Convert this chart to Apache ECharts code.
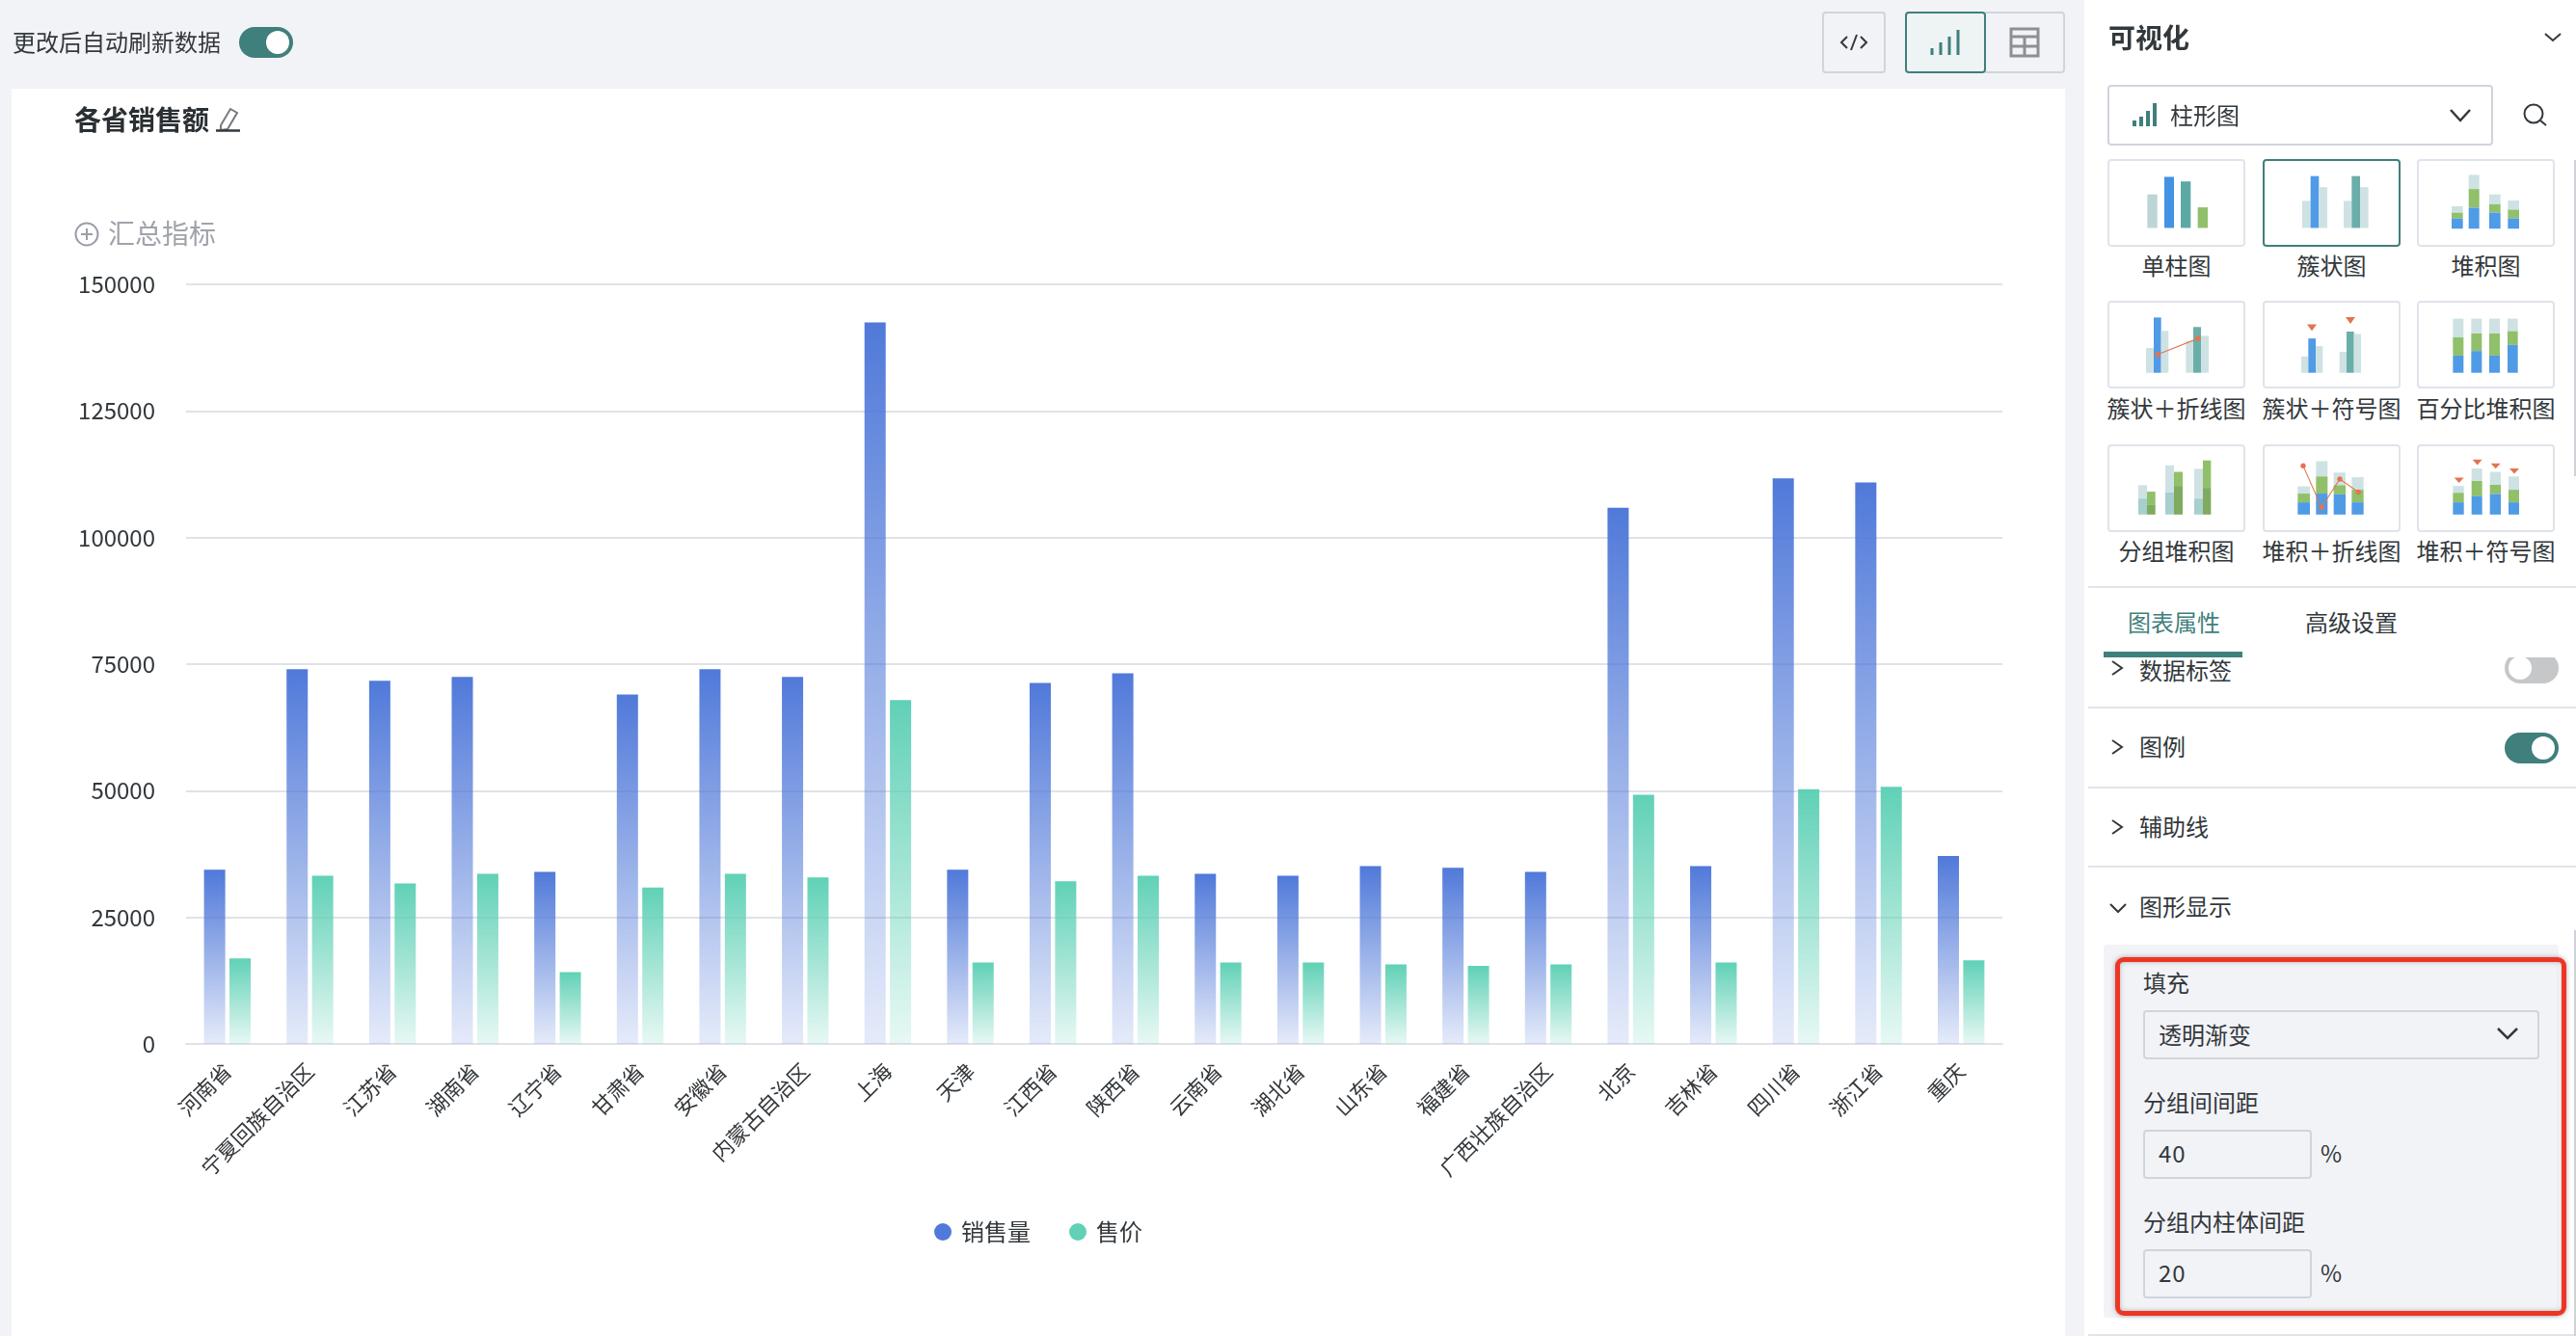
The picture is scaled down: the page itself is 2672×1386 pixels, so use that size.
<!DOCTYPE html>
<html>
<head>
    <meta charset="utf-8">
    <title>各省销售额</title>
    <script src="https://cdn.jsdelivr.net/npm/echarts@6/dist/echarts.min.js"></script>
    <style>
        html, body { margin: 0; padding: 0; width: 2672px; height: 1386px; overflow: hidden; background: #f2f3f7; }
        body, div, span { font-family: "Noto Sans CJK SC", "Noto Sans", sans-serif; color: #33383c; box-sizing: border-box; }
        .abs { position: absolute; }
        .t { position: absolute; font-size: 24px; line-height: 34px; white-space: nowrap; transform: translateY(calc(-50% - 1.5px)); }
        .c { position: absolute; font-size: 24px; line-height: 34px; white-space: nowrap; transform: translate(-50%, calc(-50% - 1.5px)); }
        .sep { position: absolute; left: 2166px; width: 506px; height: 2px; background: #e2e4ea; }
        .box { position: absolute; border: 2px solid #d0d4dc; border-radius: 4px; }
        .card { position: absolute; width: 143px; height: 91px; border: 2px solid #e0e3ea; border-radius: 4px; background: #fff; }
        .toggle { position: absolute; width: 56px; height: 32px; border-radius: 16px; background: #3f7f7c; }
        .knob { position: absolute; top: 4px; width: 24px; height: 24px; border-radius: 12px; background: #fff; }
    </style>
</head>
<body>
<div class="abs" style="left:12px;top:92px;width:2130px;height:1294px;background:#fff"></div>
<div class="abs" style="left:2162px;top:0;width:510px;height:1386px;background:#fff"></div>

<div id="main" class="abs" style="left:0;top:0;width:2142px;height:1386px"></div>

<!-- 顶部工具栏 -->
<div class="t" style="left:13px;top:44px">更改后自动刷新数据</div>
<div class="toggle" style="left:248px;top:28px"><div class="knob" style="left:28px"></div></div>
<div class="box" style="left:1890px;top:12px;width:66px;height:64px"></div>
<div class="box" style="left:2057px;top:12px;width:85px;height:64px;border-left:none"></div>
<div class="box" style="left:1976px;top:12px;width:84px;height:64px;border-color:#3f7f7c;background:#eef3f4"></div>
<svg class="abs" style="left:1890px;top:12px" width="66" height="64">
    <path d="M26 26L20 32L26 38M40 26L46 32L40 38M36 24L30 40" stroke="#33383c" stroke-width="2" fill="none"/>
</svg>
<svg class="abs" style="left:1976px;top:12px" width="166" height="64">
    <path d="M28 45V38M37 45V32M46 45V26M55 45V19" stroke="#3f7f7c" stroke-width="3" fill="none"/>
    <path d="M110 18H138V46H110ZM110 26H138M124 26V46M110 36H138" stroke="#8c9095" stroke-width="3" fill="none"/>
</svg>

<!-- 汇总指标 -->
<svg class="abs" style="left:222px;top:110px" width="30" height="28">
    <path d="M7 20L17 3L24 7L14 24L7 25Z" stroke="#77797e" stroke-width="2" fill="none"/>
    <path d="M2 25.5H27" stroke="#33383c" stroke-width="2.5"/>
</svg>
<svg class="abs" style="left:76px;top:229px" width="28" height="28">
    <circle cx="14" cy="14" r="11.5" stroke="#9a9ea8" stroke-width="2" fill="none"/>
    <path d="M8 14H20M14 8V20" stroke="#9a9ea8" stroke-width="2"/>
</svg>
<div class="t" style="left:112px;top:242px;font-size:28px;color:#a0a3aa">汇总指标</div>

<!-- 右侧面板 -->
<div class="t" style="left:2187px;top:39px;font-size:28px;font-weight:bold">可视化</div>
<svg class="abs" style="left:2150px;top:0" width="522" height="160">
    <path d="M490 35L498 42L506 35" stroke="#33383c" stroke-width="2" fill="none"/>
    <path d="M64 131V125M71 131V121M78 131V115M85 131V107" stroke="#3f7f7c" stroke-width="4" fill="none"/>
    <path d="M392 114L402 125L412 114" stroke="#33383c" stroke-width="2.5" fill="none"/>
    <circle cx="478" cy="118" r="9.5" stroke="#33383c" stroke-width="2" fill="none"/>
    <path d="M485 125L491 130" stroke="#33383c" stroke-width="2"/>
</svg>
<div class="box" style="left:2186px;top:88px;width:400px;height:63px"></div>
<div class="t" style="left:2251px;top:120px">柱形图</div>
<div id="cards"></div>

<div class="sep" style="top:608px"></div>
<div class="t" style="left:2207px;top:646px;color:#3f7f7c">图表属性</div>
<div class="t" style="left:2391px;top:646px">高级设置</div>
<div class="t" style="left:2219px;top:696px;clip-path:inset(3px 0 0 0)">数据标签</div>
<div class="abs" style="left:2598px;top:682px;width:56px;height:27px;overflow:hidden">
    <div class="toggle" style="left:0;top:-5px;background:#c5c7c9"><div class="knob" style="left:4px"></div></div>
</div>
<div class="abs" style="left:2182px;top:676px;width:144px;height:6px;background:#3f7f7c"></div>
<div class="sep" style="top:733px"></div>
<div class="t" style="left:2219px;top:775px">图例</div>
<div class="toggle" style="left:2598px;top:760px"><div class="knob" style="left:28px"></div></div>
<div class="sep" style="top:816px"></div>
<div class="t" style="left:2219px;top:858px">辅助线</div>
<div class="sep" style="top:898px"></div>
<div class="t" style="left:2219px;top:941px">图形显示</div>
<svg class="abs" style="left:2186px;top:680px" width="24" height="280">
    <path d="M5 6L15 13L5 20M5 88L15 95L5 102M5 171L15 178L5 185M3 258L11 266L19 258" stroke="#33383c" stroke-width="2" fill="none"/>
</svg>

<div class="abs" style="left:2182px;top:980px;width:472px;height:387px;background:#f2f3f7;border-radius:4px"></div>
<div class="t" style="left:2223px;top:1020px">填充</div>
<div class="box" style="left:2223px;top:1048px;width:411px;height:51px"></div>
<div class="t" style="left:2239px;top:1074px">透明渐变</div>
<svg class="abs" style="left:2588px;top:1062px" width="26" height="22">
    <path d="M3 5L13 15L23 5" stroke="#33383c" stroke-width="2.5" fill="none"/>
</svg>
<div class="t" style="left:2223px;top:1144px">分组间间距</div>
<div class="box" style="left:2223px;top:1172px;width:175px;height:51px"></div>
<div class="t" style="left:2239px;top:1197px;letter-spacing:1px">40</div>
<div class="t" style="left:2407px;top:1197px">%</div>
<div class="t" style="left:2223px;top:1268px">分组内柱体间距</div>
<div class="box" style="left:2223px;top:1296px;width:175px;height:51px"></div>
<div class="t" style="left:2239px;top:1321px;letter-spacing:1px">20</div>
<div class="t" style="left:2407px;top:1321px">%</div>
<div class="abs" style="left:2194px;top:993px;width:468px;height:372px;border:5px solid #ee3524;border-radius:9px;box-shadow:0 0 5px rgba(60,60,60,.45), inset 0 0 5px rgba(60,60,60,.35)"></div>
<div class="sep" style="top:1384px"></div>
<div class="abs" style="left:2670px;top:166px;width:2px;height:328px;background:#cfd2d8"></div>
<div class="abs" style="left:2670px;top:965px;width:2px;height:421px;background:#cfd2d8"></div>

<!-- 缩略图图标，坐标系与面板截图一致 -->
<svg id="thumbs" class="abs" style="left:2150px;top:0" width="522" height="620" viewBox="0 0 1566 1568" preserveAspectRatio="none"></svg>

<script>
var provinces = ['河南省', '宁夏回族自治区', '江苏省', '湖南省', '辽宁省', '甘肃省', '安徽省', '内蒙古自治区', '上海', '天津', '江西省', '陕西省', '云南省', '湖北省', '山东省', '福建省', '广西壮族自治区', '北京', '吉林省', '四川省', '浙江省', '重庆'];
var salesVolume = [34400, 74000, 71700, 72500, 34000, 69000, 74000, 72500, 142500, 34400, 71300, 73200, 33600, 33200, 35100, 34800, 34000, 105900, 35100, 111700, 110900, 37100];
var price = [16900, 33200, 31700, 33600, 14200, 30900, 33600, 32900, 67900, 16100, 32100, 33200, 16100, 16100, 15700, 15400, 15700, 49200, 16100, 50300, 50800, 16500];
var yTicks = [0, 25000, 50000, 75000, 100000, 125000, 150000];
var seriesNames = ['销售量', '售价'];
var chartTypes = ['单柱图', '簇状图', '堆积图', '簇状＋折线图', '簇状＋符号图', '百分比堆积图', '分组堆积图', '堆积＋折线图', '堆积＋符号图'];

function fade(r, g, b) {
    return new echarts.graphic.LinearGradient(0, 0, 0, 1, [
        {offset: 0, color: 'rgba(' + r + ',' + g + ',' + b + ',1)'},
        {offset: 1, color: 'rgba(' + r + ',' + g + ',' + b + ',0.15)'}
    ]);
}

var chart = echarts.init(document.getElementById('main'));
chart.setOption({
    animation: false,
    backgroundColor: 'transparent',
    textStyle: {fontFamily: '"Noto Sans CJK SC", "Noto Sans", sans-serif'},
    title: {
        text: '各省销售额',
        left: 72,
        top: 105,
        textStyle: {fontSize: 28, fontWeight: 'bold', color: '#2a2f33'}
    },
    legend: {
        data: [
            {name: seriesNames[0], itemStyle: {color: '#5079d9'}},
            {name: seriesNames[1], itemStyle: {color: '#60d1b6'}}
        ],
        left: 964,
        top: 1261,
        icon: 'circle',
        itemWidth: 18,
        itemHeight: 18,
        itemGap: 40,
        textStyle: {fontSize: 24, color: '#33383c', padding: [0, 0, 0, 5]}
    },
    grid: {left: 193, right: 65, top: 295, bottom: 303},
    xAxis: {
        type: 'category',
        data: provinces,
        axisLine: {lineStyle: {color: '#e0e2e8', width: 2}},
        axisTick: {length: 18, lineStyle: {color: '#e0e2e8', width: 2}},
        axisLabel: {interval: 0, rotate: 45, fontSize: 22, margin: 24, color: '#33383c'}
    },
    yAxis: {
        type: 'value',
        min: yTicks[0],
        max: yTicks[yTicks.length - 1],
        interval: yTicks[1] - yTicks[0],
        axisLine: {show: false},
        axisTick: {show: false},
        axisLabel: {
            fontSize: 24,
            margin: 32,
            color: '#33383c',
            formatter: function (v) { return String(v); }
        },
        splitLine: {lineStyle: {color: '#e0e2e8', width: 2}}
    },
    series: [
        {name: seriesNames[0], type: 'bar', barWidth: 22, barGap: '20%', data: salesVolume, itemStyle: {color: fade(80, 121, 217)}},
        {name: seriesNames[1], type: 'bar', barWidth: 22, data: price, itemStyle: {color: fade(96, 209, 182)}}
    ]
});

// 面板上的图表类型卡片
var cardsHtml = '';
var cardX = [2186, 2347, 2507];
var cardY = [165, 312, 461];
var labelY = [276, 424, 572];
chartTypes.forEach(function (name, i) {
    var col = i % 3, row = Math.floor(i / 3);
    var border = i == 1 ? 'border-color:#3f7f7c;' : '';
    cardsHtml += '<div class="card" style="left:' + cardX[col] + 'px;top:' + cardY[row] + 'px;' + border + '"></div>';
    cardsHtml += '<div class="c" style="left:' + (cardX[col] + 71.5) + 'px;top:' + labelY[row] + 'px">' + name + '</div>';
});
document.getElementById('cards').innerHTML = cardsHtml;

var LIGHT = '#cfe2e3', SOFT = '#bcd5d7', BLUE = '#4f9be6', TEAL = '#6aaeaa', GREEN = '#90c06a', MID = '#a6cfce', DARK = '#7faa5f', RED = '#e27450';
var svg = '';
function rect(x0, y0, x1, y1, c) {
    svg += '<rect x="' + x0 + '" y="' + y0 + '" width="' + (x1 - x0) + '" height="' + (y1 - y0) + '" fill="' + c + '"/>';
}
function stack(x0, x1, ys) {
    rect(x0, ys[0], x1, ys[1], LIGHT);
    rect(x0, ys[1], x1, ys[2], GREEN);
    rect(x0, ys[2], x1, ys[3], BLUE);
}
function tri(x, y0, y1) {
    svg += '<path d="M' + (x - 15) + ' ' + y0 + 'H' + (x + 15) + 'L' + x + ' ' + y1 + 'Z" fill="' + RED + '"/>';
}
function line(pts) {
    svg += '<polyline points="' + pts.map(function (p) { return p.join(','); }).join(' ') + '" fill="none" stroke="' + RED + '" stroke-width="3"/>';
    pts.forEach(function (p) {
        svg += '<ellipse cx="' + p[0] + '" cy="' + p[1] + '" rx="8" ry="7" fill="' + RED + '"/>';
    });
}
// 单柱图
rect(232, 510, 263, 598, SOFT); rect(285, 464, 315, 598, '#4392e3'); rect(336, 476, 367, 598, '#5ca9a4'); rect(389, 544, 420, 598, GREEN);
// 簇状图
rect(714, 527, 740, 598, LIGHT); rect(740, 462, 766, 598, BLUE); rect(766, 491, 792, 598, LIGHT);
rect(843, 527, 868, 598, LIGHT); rect(868, 462, 894, 598, TEAL); rect(894, 491, 920, 598, LIGHT);
// 堆积图
stack(1179, 1214, [541, 558, 573, 600]); stack(1232, 1265, [459, 496, 545, 600]); stack(1296, 1331, [510, 536, 558, 600]); stack(1354, 1389, [526, 550, 573, 600]);
// 簇状+折线图
rect(228, 913, 252, 978, LIGHT); rect(252, 833, 275, 978, BLUE); rect(275, 868, 298, 978, LIGHT);
rect(352, 895, 375, 978, LIGHT); rect(375, 858, 399, 978, TEAL); rect(399, 881, 423, 978, LIGHT);
line([[264, 930], [390, 888]]);
// 簇状+符号图
tri(744, 851, 868); rect(711, 935, 733, 978, LIGHT); rect(733, 888, 756, 978, BLUE); rect(756, 908, 778, 978, LIGHT);
tri(864, 832, 850); rect(830, 923, 852, 978, LIGHT); rect(852, 870, 875, 978, TEAL); rect(875, 876, 897, 978, LIGHT);
// 百分比堆积图
stack(1183, 1216, [836, 885, 933, 978]); stack(1240, 1273, [836, 875, 921, 978]); stack(1296, 1329, [836, 875, 933, 978]); stack(1353, 1385, [836, 869, 905, 978]);
// 分组堆积图
rect(204, 1273, 231, 1308, LIGHT); rect(204, 1308, 231, 1350, MID); rect(231, 1290, 257, 1325, GREEN); rect(231, 1325, 257, 1350, DARK);
rect(288, 1221, 315, 1292, LIGHT); rect(288, 1292, 315, 1350, MID); rect(315, 1238, 342, 1275, GREEN); rect(315, 1275, 342, 1350, DARK);
rect(378, 1230, 405, 1308, LIGHT); rect(378, 1308, 405, 1350, MID); rect(405, 1208, 430, 1280, GREEN); rect(405, 1280, 430, 1350, DARK);
// 堆积+折线图
stack(700, 738, [1276, 1295, 1318, 1350]); stack(757, 793, [1210, 1250, 1295, 1350]); stack(812, 849, [1240, 1273, 1297, 1350]); stack(868, 905, [1252, 1285, 1318, 1350]);
line([[717, 1222], [774, 1331], [831, 1257], [889, 1291]]);
// 堆积+符号图
stack(1183, 1217, [1275, 1293, 1318, 1350]); stack(1241, 1274, [1229, 1262, 1302, 1350]); stack(1298, 1332, [1238, 1272, 1296, 1350]); stack(1356, 1389, [1250, 1285, 1318, 1350]);
tri(1202, 1253, 1267); tri(1259, 1206, 1220); tri(1316, 1216, 1230); tri(1374, 1229, 1243);
document.getElementById('thumbs').innerHTML = svg;
</script>
</body>
</html>
